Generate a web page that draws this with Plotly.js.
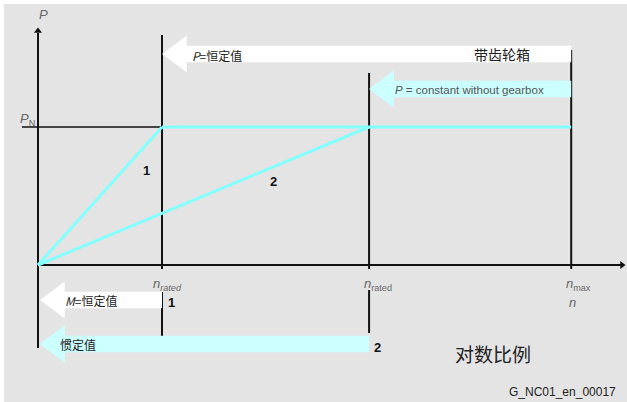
<!DOCTYPE html>
<html>
<head>
<meta charset="utf-8">
<script src="https://cdn.plot.ly/plotly-3.0.1.min.js"></script>
<style>
  html, body { margin: 0; padding: 0; background: #fff; }
  #chart { width: 627px; height: 402px; }
</style>
</head>
<body>
<div id="chart"></div>
<script>
// speeds in relative units (n_rated of curve 1 = 1)
const speedNames = ["n_rated 1", "n_rated 2", "n_max"];
const speedValues = [1, 2.67, 4.3];
const ratedPower = 1; // P_N

// curve 1: with gearbox, curve 2: without gearbox
const curve1N = [0, 1];
const curve1P = [0, 1];
const curve2N = [0, 2.67];
const curve2P = [0, 1];
const constPowerN = [1, 4.3];
const constPowerP = [1, 1];

const nR1 = speedValues[0], nR2 = speedValues[1], nMax = speedValues[2];

// pixel helpers for text placement only
const X = p => (p - 38) / 124;
const Y = p => (265 - p) / 138;

const black = "#111";
const cyan = "#84ffff";
const cyanLight = "#ccffff";

function vline(x, y0, y1) {
    return { x: [x, x], y: [y0, y1], mode: "lines", line: { color: black, width: 2 }, hoverinfo: "skip" };
}

const traces = [
    // axes
    vline(0, Y(348), Y(33)),
    { x: [0, X(621)], y: [0, 0], mode: "lines", line: { color: black, width: 2 }, hoverinfo: "skip" },
    { x: [0], y: [Y(31)], mode: "markers", marker: { symbol: "triangle-up", size: 7, color: black }, hoverinfo: "skip" },
    { x: [X(622)], y: [0], mode: "markers", marker: { symbol: "triangle-right", size: 7, color: black }, hoverinfo: "skip" },
    // speed guide lines
    vline(nR1, Y(35), Y(269)),
    vline(nR1, Y(292), Y(336)),
    vline(nR2, Y(73), Y(269)),
    vline(nR2, Y(290), Y(333)),
    vline(nMax, Y(50), Y(269)),
    // rated power line
    { x: [X(22), nR1], y: [ratedPower, ratedPower], mode: "lines", line: { color: black, width: 1.5 }, hoverinfo: "skip" },
    // curves
    { x: constPowerN, y: constPowerP, mode: "lines", line: { color: cyan, width: 3 }, hoverinfo: "skip" },
    { x: curve1N, y: curve1P, mode: "lines", line: { color: cyan, width: 3 }, hoverinfo: "skip" },
    { x: curve2N, y: curve2P, mode: "lines", line: { color: cyan, width: 3 }, hoverinfo: "skip" }
];

function arrowPath(xTip, xEnd, yMid) {
    const headLen = 0.2, headHalf = 0.134, bandHalf = 0.06;
    const xb = xTip + headLen;
    return `M ${xTip},${yMid} L ${xb},${yMid + headHalf} L ${xb},${yMid + bandHalf} L ${xEnd},${yMid + bandHalf} ` +
        `L ${xEnd},${yMid - bandHalf} L ${xb},${yMid - bandHalf} L ${xb},${yMid - headHalf} Z`;
}

const shapes = [
    { type: "path", path: arrowPath(nR1, nMax, Y(54)), fillcolor: "#fff", line: { width: 0 }, layer: "above" },
    { type: "path", path: arrowPath(nR2, nMax, Y(89)), fillcolor: cyanLight, line: { width: 0 }, layer: "above" },
    { type: "path", path: arrowPath(X(40), nR1, Y(300)), fillcolor: "#fff", line: { width: 0 }, layer: "above" },
    { type: "path", path: arrowPath(X(40), nR2, Y(344)), fillcolor: cyanLight, line: { width: 0 }, layer: "above" }
].map(s => Object.assign({ xref: "x", yref: "y" }, s));

const sans = "Liberation Sans, Arial, sans-serif";
const cjk = "Noto Sans CJK SC, sans-serif";

function label(text, x, y, opts) {
    return Object.assign({
        text: text, x: x, y: y, xref: "x", yref: "y", showarrow: false,
        xanchor: "left", yanchor: "middle",
        font: { family: sans, size: 12, color: "#222" }
    }, opts || {});
}

const gray = { family: sans, size: 13, color: "#666" };
const bold = { family: sans, size: 13, color: "#111", weight: "bold" };

const annotations = [
    label("<i>P</i>", X(37), Y(14), { font: gray }),
    label("<i>P</i><sub>N</sub>", X(18), Y(119), { font: gray }),
    label("<b>1</b>", X(146), Y(170), { xanchor: "center", font: bold }),
    label("<b>2</b>", X(273), Y(181), { xanchor: "center", font: bold }),
    label("<i>P</i>=恒定值", X(190), Y(55), { font: { family: cjk, size: 12, color: "#222" } }),
    label("带齿轮箱", X(502), Y(54), { xanchor: "center", font: { family: cjk, size: 14, color: "#222" } }),
    label("<i>P</i> = constant without gearbox", X(393), Y(90), { font: { family: sans, size: 11.5, color: "#555" } }),
    label("<i>n</i><sub><i>rated</i></sub>", X(151), Y(284), { font: gray }),
    label("<i>n</i><sub>rated</sub>", X(362), Y(284), { font: gray }),
    label("<i>n</i><sub>max</sub>", X(564), Y(284), { font: gray }),
    label("<i>n</i>", X(567), Y(302), { font: gray }),
    label("<i>M</i>=恒定值", X(63), Y(300), { font: { family: cjk, size: 12, color: "#222" } }),
    label("<b>1</b>", X(166), Y(302), { font: bold }),
    label("惯定值", X(58), Y(344), { font: { family: cjk, size: 12, color: "#222" } }),
    label("<b>2</b>", X(372), Y(347), { font: bold }),
    label("对数比例", X(493), Y(353), { xanchor: "center", font: { family: cjk, size: 19, color: "#222" } }),
    label("G_NC01_en_00017", X(618), Y(392), { xanchor: "right", font: { family: sans, size: 12, color: "#222" } })
];

const layout = {
    width: 627,
    height: 402,
    margin: { l: 4, r: 0, t: 4, b: 0 },
    paper_bgcolor: "#fff",
    plot_bgcolor: "#e4e4e4",
    showlegend: false,
    xaxis: { range: [X(4), X(627)], visible: false, fixedrange: true },
    yaxis: { range: [Y(402), Y(4)], visible: false, fixedrange: true },
    shapes: shapes,
    annotations: annotations
};

Plotly.newPlot("chart", traces, layout, { staticPlot: true, displayModeBar: false });
</script>
</body>
</html>
